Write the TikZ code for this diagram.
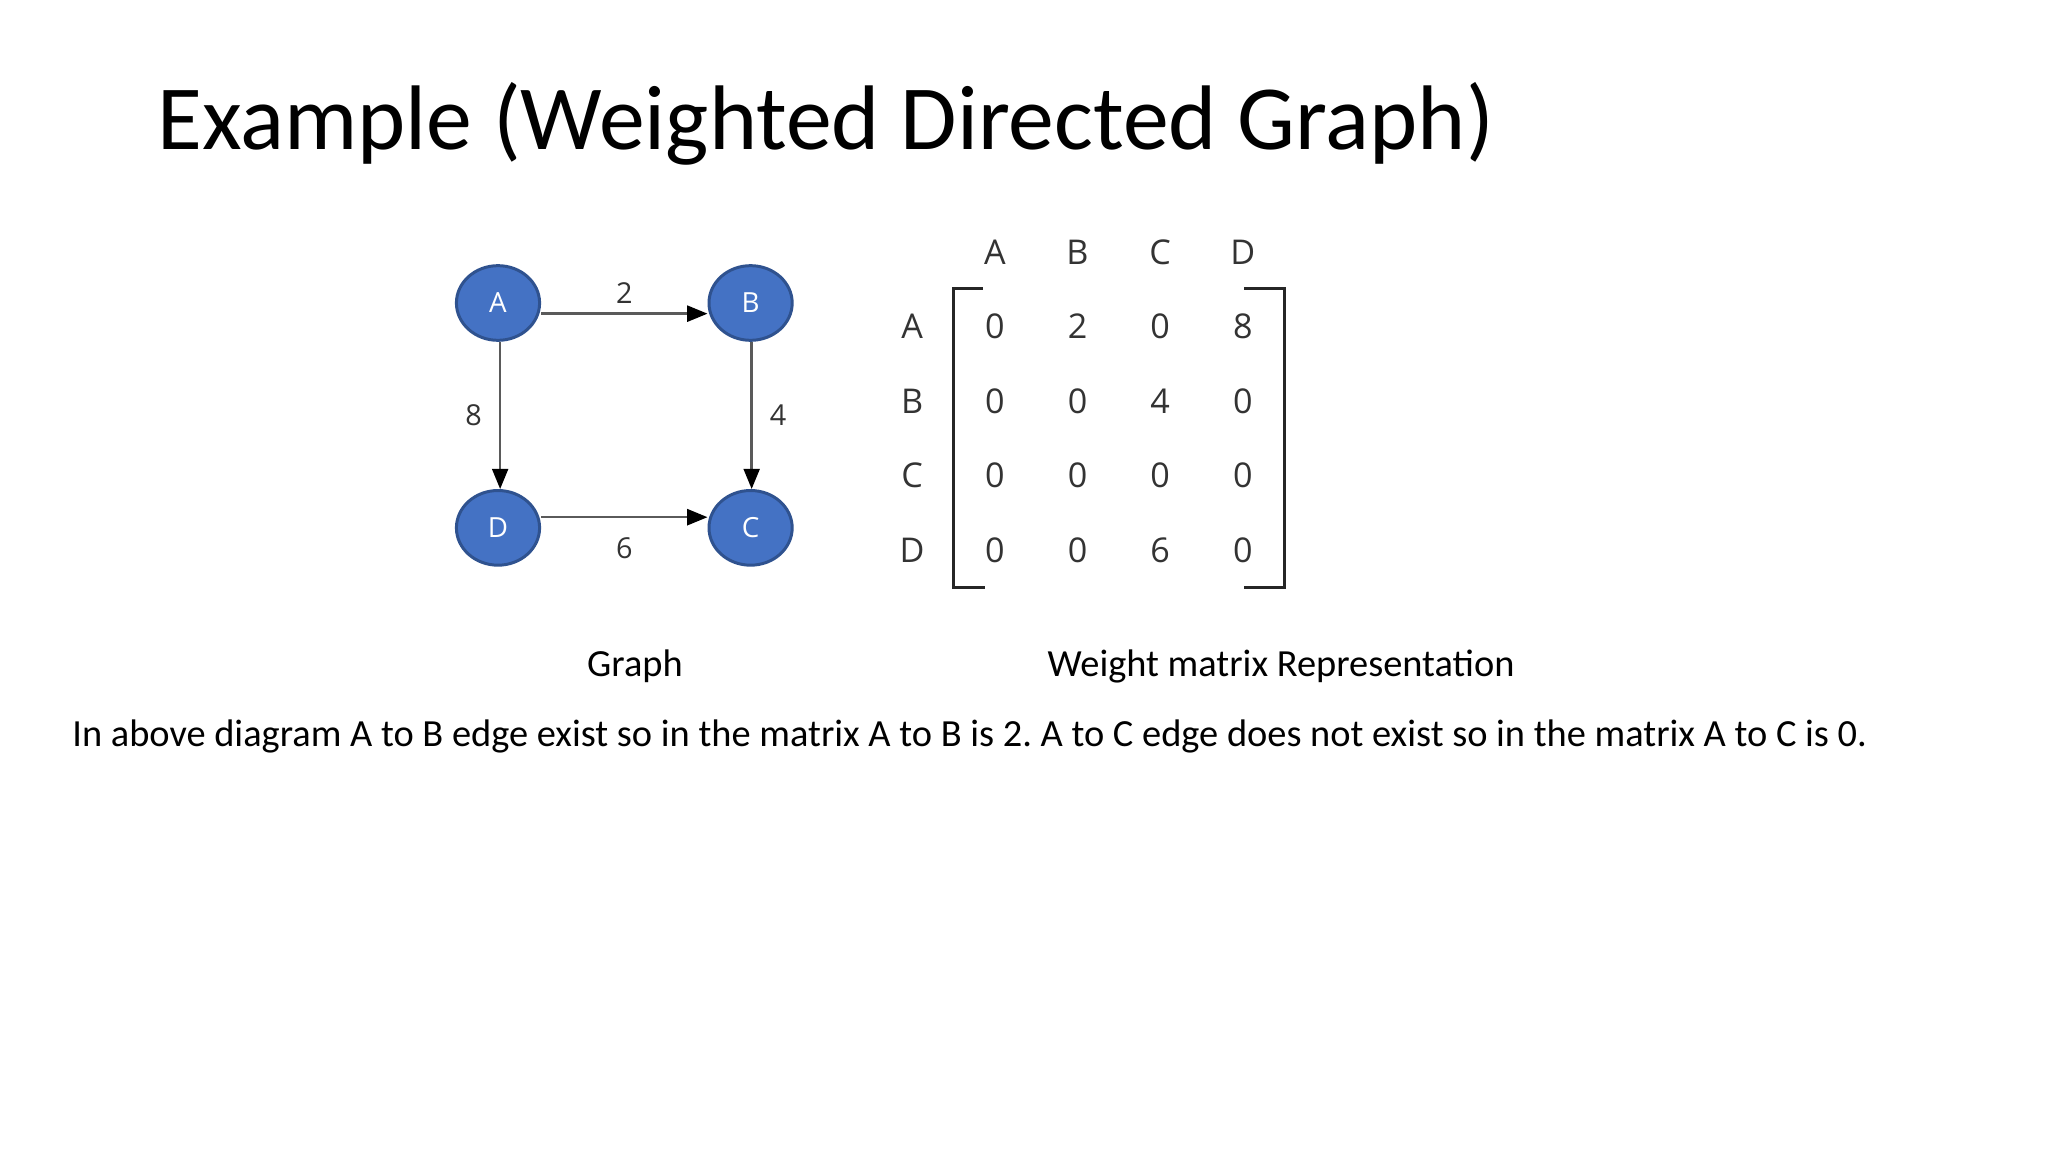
\documentclass[tikz,border=0pt]{standalone}
\usepackage{fontspec}
\setmainfont{Carlito}
\newfontfamily\figfont{Open Sans}
\usetikzlibrary{arrows.meta,positioning,shapes.geometric,matrix,calc}
\definecolor{vertexblue}{HTML}{4472C4}
\definecolor{vertexrim}{HTML}{2F528F}
\definecolor{linkgray}{HTML}{5A5A5A}
\definecolor{labelgray}{HTML}{333333}
\frenchspacing

\begin{document}
\begin{tikzpicture}[
    x=0.46875pt, y=-0.46875pt,
    node distance=69pt and 78pt,
    vertex/.style={ellipse, draw=vertexrim, line width=1.4pt, fill=vertexblue, minimum width=39pt, minimum height=35pt, inner sep=0pt, text=white, font=\figfont\fontsize{13}{15}\selectfont},
    link/.style={-{Triangle[length=9.5pt,width=7.5pt,color=black]}, line width=1.1pt, draw=linkgray},
    wlabel/.style={inner sep=0pt, text=labelgray, font=\figfont\fontsize{13.5}{16}\selectfont},
    cell/.style={minimum width=38.75pt, minimum height=34.9pt, inner sep=0pt, anchor=center, text=labelgray, font=\figfont\fontsize{16}{19}\selectfont},
    bracket/.style={draw=black!85, line width=1.4pt},
    slidetext/.style={font=\fontsize{18}{22}\selectfont, inner sep=0pt, anchor=base}
]
\useasboundingbox[fill=white] (0,0) rectangle (2048,1152);

% title
\node[anchor=base west, inner sep=0pt, font=\fontsize{43}{52}\selectfont] (title) at (157,150) {Example (Weighted Directed Graph)};

% graph
\node[vertex] (A) at (498,303) {A};
\node[vertex, right=of A] (B) {B};
\node[vertex, below=of A] (D) {D};
\node[vertex, below=of B] (C) {C};
\draw[link] ([yshift=-5pt]A.east) -- node[wlabel, above=4pt] {2} ([yshift=-5pt]B.west);
\draw[link] ([xshift=1pt]A.south) -- node[wlabel, left=8pt] {8} ([xshift=1pt]D.north);
\draw[link] ([xshift=0.5pt]B.south) -- node[wlabel, right=8pt] {4} ([xshift=0.5pt]C.north);
\draw[link] ([yshift=5pt]D.east) -- node[wlabel, below=9pt] {6} ([yshift=5pt]C.west);

% weight matrix
\matrix (wm) [matrix of nodes, nodes={cell}, column sep=0pt, row sep=0pt] at (1077.5,401) {
  & A & B & C & D \\
A & 0 & 2 & 0 & 8 \\
B & 0 & 0 & 4 & 0 \\
C & 0 & 0 & 0 & 0 \\
D & 0 & 0 & 6 & 0 \\
};
\draw[bracket] ([xshift=14pt]wm-2-2.north west) -- (wm-2-2.north west) -- (wm-5-2.south west) -- ++(15pt,0pt);
\draw[bracket] ([xshift=-19pt]wm-2-5.north east) -- (wm-2-5.north east) -- (wm-5-5.south east) -- ++(-19pt,0pt);

% captions
\node[slidetext] (graphcap) at (635,676) {Graph};
\node[slidetext] (matrixcap) at (1281,676) {Weight matrix Representation};
\node[slidetext, anchor=base west] (note) at (72,746) {In above diagram A to B edge exist so in the matrix A to B is 2. A to C edge does not exist so in the matrix A to C is 0.};
\end{tikzpicture}
\end{document}
